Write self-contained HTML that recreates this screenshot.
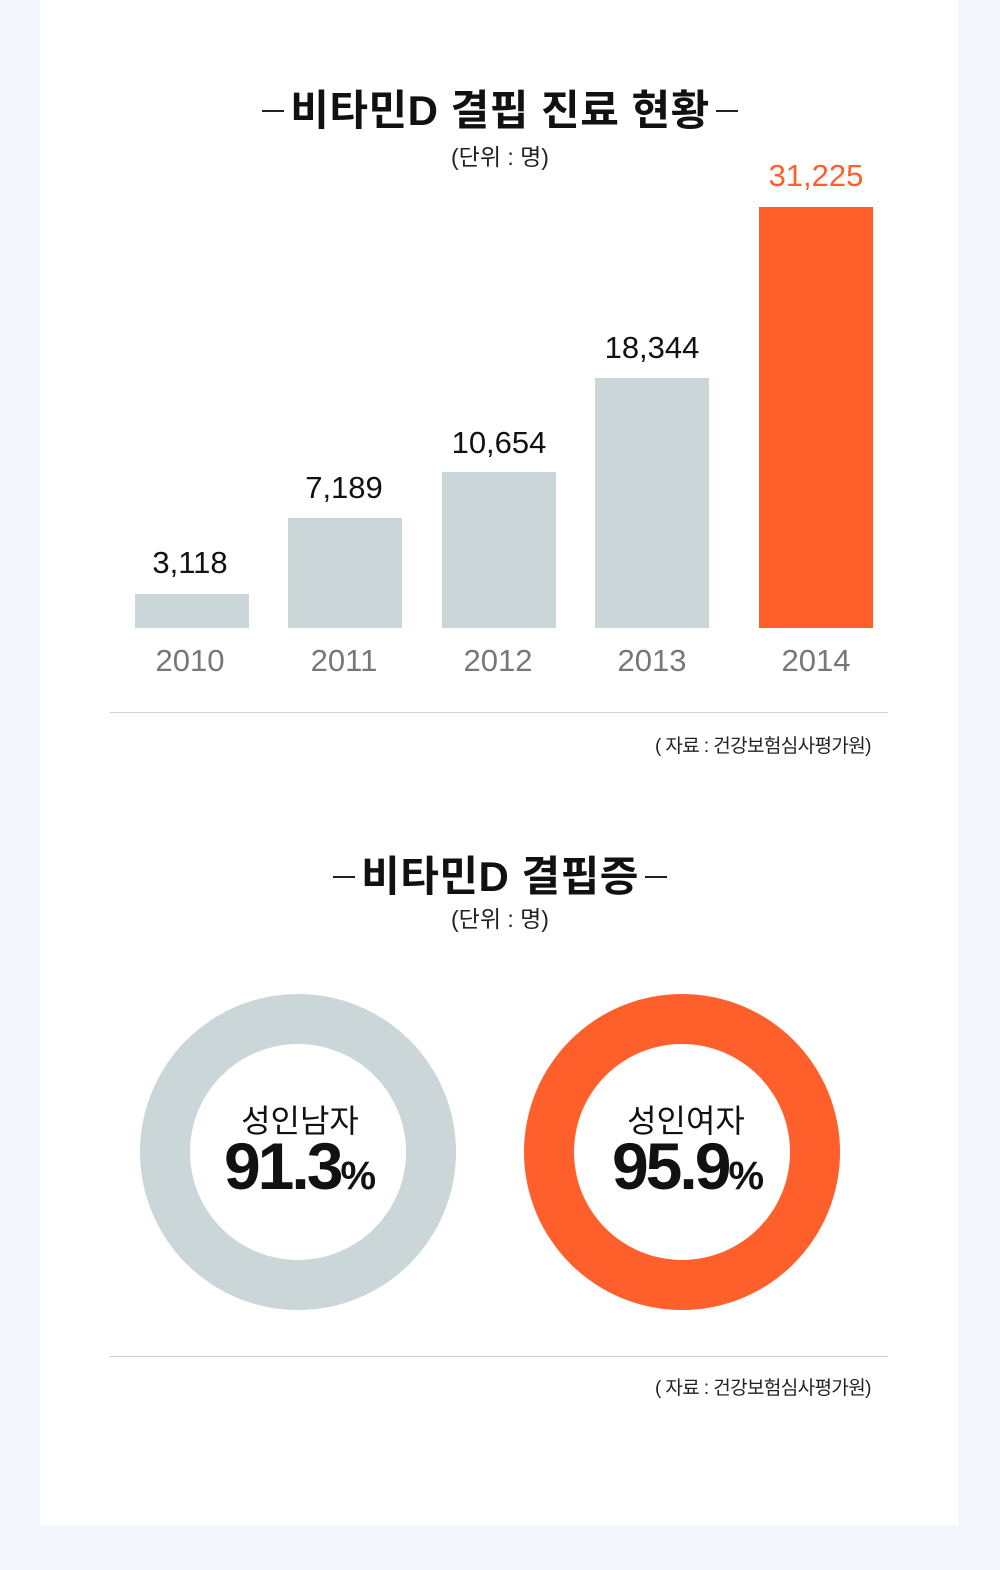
<!DOCTYPE html>
<html><head><meta charset="utf-8"><style>
body{margin:0;width:1000px;height:1570px;background:#f3f7fd;font-family:"Liberation Sans","Noto Sans CJK KR",sans-serif;position:relative;overflow:hidden}
.panel{position:absolute;left:40px;top:0;width:918px;height:1525px;background:#fff}
.a{position:absolute;white-space:nowrap}
.t{font-size:42px;font-weight:bold;color:#111;width:1000px;text-align:center;left:0;letter-spacing:0.5px}
.t b{display:inline-block;width:22px;height:2px;background:#222;vertical-align:middle;margin:0 6px 6px}
.s{font-size:23px;color:#222;width:1000px;text-align:center;left:0}
.bar{position:absolute;background:#cbd6d8;width:114px}
.v{font-size:31px;color:#111;width:160px;text-align:center}
.y{font-size:31px;color:#777;width:160px;text-align:center}
.line{position:absolute;left:110px;width:778px;height:1px;background:#d0d0d0}
.src{font-size:19px;color:#222;letter-spacing:-0.6px;left:655px}
.c{position:absolute;border-radius:50%;width:316px;height:316px}
.c i{position:absolute;left:50px;top:50px;width:216px;height:216px;border-radius:50%;background:#fff}
.lbl{font-size:32px;color:#111;width:316px;text-align:center}
.pct{font-size:66px;font-weight:bold;color:#111;width:316px;text-align:center;letter-spacing:-3px}
.pct span{font-size:40px;letter-spacing:0}
</style></head><body>
<div class="panel"></div>
<div class="a t" style="top:77px"><b></b>비타민D 결핍 진료 현황<b></b></div>
<div class="a s" style="top:138px">(단위 : 명)</div>

<div class="bar" style="left:135px;top:594px;height:34px"></div>
<div class="bar" style="left:288px;top:518px;height:110px"></div>
<div class="bar" style="left:442px;top:472px;height:156px"></div>
<div class="bar" style="left:595px;top:378px;height:250px"></div>
<div class="bar" style="left:759px;top:207px;height:421px;background:#ff5f2b"></div>

<div class="a v" style="left:110px;top:545px">3,118</div>
<div class="a v" style="left:264px;top:470px">7,189</div>
<div class="a v" style="left:419px;top:425px">10,654</div>
<div class="a v" style="left:572px;top:330px">18,344</div>
<div class="a v" style="left:736px;top:158px;color:#ff5f2b">31,225</div>

<div class="a y" style="left:110px;top:643px">2010</div>
<div class="a y" style="left:264px;top:643px">2011</div>
<div class="a y" style="left:418px;top:643px">2012</div>
<div class="a y" style="left:572px;top:643px">2013</div>
<div class="a y" style="left:736px;top:643px">2014</div>

<div class="line" style="top:712px"></div>
<div class="a src" style="top:731px">( 자료 : 건강보험심사평가원)</div>

<div class="a t" style="top:843px"><b></b>비타민D 결핍증<b></b></div>
<div class="a s" style="top:900px">(단위 : 명)</div>

<div class="c" style="left:140px;top:994px;background:#cbd6d8"><i></i></div>
<div class="c" style="left:524px;top:994px;background:#ff5f2b"><i></i></div>
<div class="a lbl" style="left:142px;top:1096px">성인남자</div>
<div class="a pct" style="left:142px;top:1128px">91.3<span>%</span></div>
<div class="a lbl" style="left:528px;top:1096px">성인여자</div>
<div class="a pct" style="left:530px;top:1128px">95.9<span>%</span></div>

<div class="line" style="top:1356px"></div>
<div class="a src" style="top:1373px">( 자료 : 건강보험심사평가원)</div>
</body></html>
